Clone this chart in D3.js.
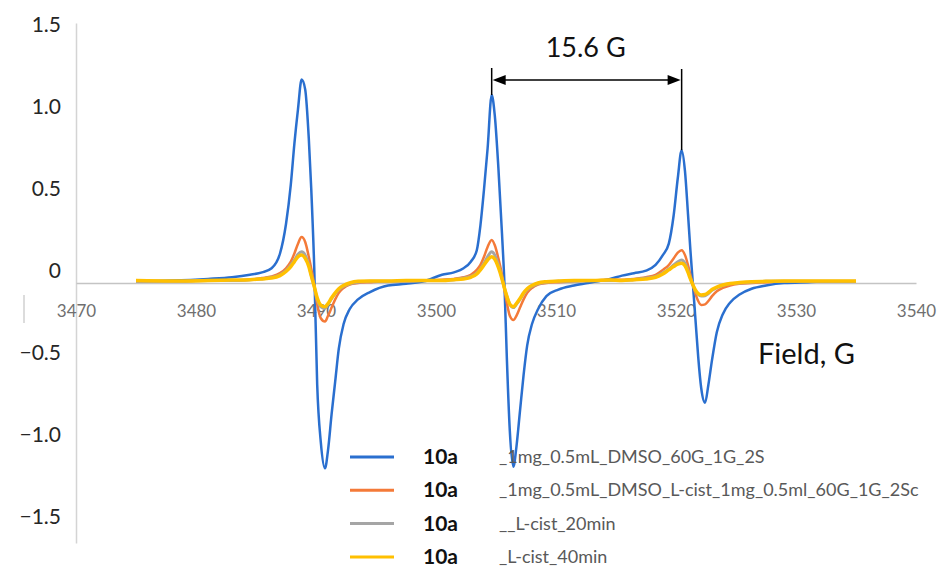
<!DOCTYPE html>
<html>
<head>
<meta charset="utf-8">
<script src="https://cdn.jsdelivr.net/npm/d3@7"></script>
<style>
  body { margin: 0; background: #fff; }
  svg { display: block; font-family: Lato, "Open Sans", sans-serif; }
</style>
</head>
<body>
<div id="plot"></div>
<script>
// field grid (G), shared by all four spectra
const fields = [
  3475, 3478, 3481, 3483, 3484.5, 3485.5, 3486.3, 3487, 3487.5, 3487.9,
  3488.2, 3488.5, 3488.8, 3489.1, 3489.4, 3489.6, 3489.85, 3490.1, 3490.4, 3490.75,
  3491, 3491.3, 3491.6, 3491.9, 3492.3, 3492.8, 3493.5, 3494.5, 3496, 3497.5,
  3499, 3500.5, 3501.5, 3502.3, 3502.9, 3503.4, 3503.7, 3504, 3504.3, 3504.64,
  3504.9, 3505.2, 3505.5, 3505.7, 3505.9, 3506.15, 3506.45, 3506.7, 3507, 3507.3,
  3507.6, 3508, 3508.5, 3509.2, 3510.2, 3511.5, 3513, 3514.5,
  3515.5, 3516.5, 3517.5, 3518.3, 3518.9, 3519.4, 3519.8, 3520.15, 3520.47, 3520.75,
  3521, 3521.2, 3521.4, 3521.6, 3521.85, 3522.1, 3522.42, 3522.7, 3523, 3523.4,
  3523.9, 3524.5, 3525.3, 3526.3, 3527.5, 3529, 3531, 3533, 3535
];

const blue = [
  0.01, 0.015, 0.025, 0.035, 0.05, 0.065, 0.09, 0.18, 0.36, 0.6,
  0.85, 1.06, 1.24, 1.18, 0.88, 0.58, 0.1, -0.62, -0.97, -1.13,
  -1.02, -0.8, -0.6, -0.4, -0.25, -0.16, -0.1, -0.055, -0.015, -0.005,
  0.01, 0.05, 0.065, 0.09, 0.13, 0.2, 0.35, 0.57, 0.82, 1.146,
  1.02, 0.7, 0.3, 0.0, -0.45, -0.9, -1.12, -1.0, -0.78, -0.56,
  -0.38, -0.25, -0.16, -0.08, -0.04, -0.015, 0.005, 0.025,
  0.045, 0.06, 0.075, 0.11, 0.17, 0.24, 0.41, 0.64, 0.81, 0.68,
  0.42, 0.2, 0.0, -0.2, -0.45, -0.64, -0.73, -0.62, -0.47, -0.3,
  -0.19, -0.12, -0.07, -0.035, -0.015, 0.0, 0.005, 0.01, 0.01
];

const orange = [
  0.01, 0.01, 0.015, 0.015, 0.02, 0.03, 0.04, 0.06, 0.09, 0.13,
  0.18, 0.24, 0.28, 0.25, 0.16, 0.09, -0.01, -0.13, -0.215, -0.235,
  -0.2, -0.15, -0.1, -0.06, -0.03, -0.01, 0.0, 0.005, 0.01, 0.01,
  0.015, 0.02, 0.025, 0.035, 0.05, 0.08, 0.11, 0.16, 0.22, 0.262,
  0.23, 0.15, 0.05, -0.04, -0.12, -0.2, -0.226, -0.2, -0.15, -0.1,
  -0.06, -0.03, -0.01, 0.0, 0.005, 0.01, 0.015, 0.02,
  0.02, 0.025, 0.035, 0.05, 0.08, 0.11, 0.15, 0.185, 0.2, 0.17,
  0.11, 0.05, -0.01, -0.06, -0.11, -0.134, -0.13, -0.11, -0.08, -0.05,
  -0.03, -0.015, -0.005, 0.0, 0.005, 0.01, 0.01, 0.01, 0.01
];

const gray = [
  0.01, 0.01, 0.015, 0.015, 0.02, 0.025, 0.035, 0.05, 0.075, 0.11,
  0.14, 0.175, 0.19, 0.17, 0.11, 0.05, -0.02, -0.1, -0.145, -0.155,
  -0.13, -0.095, -0.065, -0.04, -0.02, -0.005, 0.005, 0.01, 0.01, 0.01,
  0.015, 0.015, 0.02, 0.03, 0.04, 0.06, 0.085, 0.12, 0.16, 0.19,
  0.17, 0.11, 0.03, -0.03, -0.08, -0.13, -0.15, -0.13, -0.1, -0.065,
  -0.04, -0.02, -0.005, 0.005, 0.01, 0.01, 0.015, 0.015,
  0.015, 0.02, 0.03, 0.04, 0.06, 0.085, 0.11, 0.13, 0.14, 0.12,
  0.075, 0.03, -0.01, -0.045, -0.07, -0.08, -0.078, -0.065, -0.045, -0.028,
  -0.015, -0.005, 0.0, 0.005, 0.01, 0.01, 0.01, 0.01, 0.01
];

const yellow = [
  0.015, 0.012, 0.015, 0.018, 0.02, 0.025, 0.03, 0.045, 0.07, 0.1,
  0.13, 0.16, 0.17, 0.15, 0.1, 0.045, -0.02, -0.09, -0.135, -0.145,
  -0.125, -0.09, -0.06, -0.035, -0.015, 0.0, 0.01, 0.012, 0.012, 0.015,
  0.015, 0.015, 0.02, 0.025, 0.035, 0.055, 0.08, 0.11, 0.14, 0.16,
  0.145, 0.095, 0.025, -0.03, -0.08, -0.13, -0.145, -0.125, -0.095, -0.06,
  -0.035, -0.015, 0.0, 0.008, 0.012, 0.015, 0.015, 0.018,
  0.015, 0.02, 0.025, 0.035, 0.055, 0.08, 0.1, 0.115, 0.12, 0.105,
  0.065, 0.025, -0.01, -0.04, -0.065, -0.073, -0.07, -0.058, -0.04, -0.025,
  -0.012, -0.003, 0.003, 0.008, 0.01, 0.012, 0.012, 0.012, 0.012
];

const seriesNames = [
  "_1mg_0.5mL_DMSO_60G_1G_2S",
  "_1mg_0.5mL_DMSO_L-cist_1mg_0.5ml_60G_1G_2Sc",
  "__L-cist_20min",
  "_L-cist_40min"
];
const seriesLabel = "10a";
const xTicks = [3470, 3480, 3490, 3500, 3510, 3520, 3530, 3540];
const yTicks = [1.5, 1.0, 0.5, 0, -0.5, -1.0, -1.5];
const splitting = "15.6 G";
const xTitle = "Field, G";

const colors = ["#2a6fcf", "#f47a38", "#a5a5a5", "#ffc000"];
const widths = [2.5, 2.5, 3, 3.5];

const W = 940, H = 567;
const svg = d3.select("#plot").append("svg")
  .attr("width", W)
  .attr("height", H);

const x = d3.scaleLinear().domain([3470, 3540]).range([76, 916]);
const y = d3.scaleLinear().domain([-1.585, 1.585]).range([543, 23]);

// stray tick left of the plot
svg.append("line")
  .attr("x1", 24).attr("x2", 24).attr("y1", 295).attr("y2", 323)
  .attr("stroke", "#d0d0d0").attr("stroke-width", 1.5);

// y axis
const yAxis = svg.append("g")
  .attr("transform", `translate(${x(3470)},0)`)
  .call(d3.axisLeft(y).tickValues(yTicks).tickSize(0).tickPadding(15)
    .tickFormat(d => d === 0 ? "0" : d3.format(".1f")(d).replace("-", "\u2212")));
yAxis.select(".domain").attr("stroke", "#d4d4d4").attr("stroke-width", 1.5);
yAxis.selectAll("text")
  .attr("y", -12)
  .attr("fill", "#262626")
  .style("font-size", "21px")
  .style("font-family", "Lato, sans-serif");

// x axis at zero
const xAxis = svg.append("g")
  .attr("transform", `translate(0,${y(0)})`)
  .call(d3.axisBottom(x).tickValues(xTicks).tickSize(0).tickPadding(22).tickFormat(d3.format("d")));
xAxis.select(".domain").attr("stroke", "#c4c4c4").attr("stroke-width", 1.5);
xAxis.selectAll("text")
  .attr("fill", "#6f6f6f")
  .style("font-size", "17px")
  .style("font-family", "Lato, sans-serif");

// spectra
const allSeries = [blue, orange, gray, yellow];
const line = d3.line()
  .x((d, i) => x(fields[i]))
  .y(d => y(d))
  .curve(d3.curveMonotoneX);

allSeries.forEach((vals, k) => {
  svg.append("path")
    .datum(vals)
    .attr("fill", "none")
    .attr("stroke", colors[k])
    .attr("stroke-width", widths[k])
    .attr("stroke-linejoin", "round")
    .attr("d", line);
});

// splitting annotation between peak 2 and peak 3 of the blue trace
const i2 = fields.indexOf(3504.64), i3 = fields.indexOf(3520.47);
const px2 = x(fields[i2]), px3 = x(fields[i3]);
const ann = svg.append("g").attr("stroke", "#000").attr("stroke-width", 1.5);
ann.append("line").attr("x1", px2).attr("x2", px2).attr("y1", 68).attr("y2", y(blue[i2]));
ann.append("line").attr("x1", px3).attr("x2", px3).attr("y1", 69).attr("y2", y(blue[i3]));
ann.append("line").attr("x1", px2 + 10).attr("x2", px3 - 10).attr("y1", 80).attr("y2", 80);
svg.append("path")
  .attr("d", `M${px2 + 1},80 L${px2 + 14},75 L${px2 + 14},85 Z M${px3 - 1},80 L${px3 - 14},75 L${px3 - 14},85 Z`)
  .attr("fill", "#000");
svg.append("text")
  .attr("x", (px2 + px3) / 2 - 1)
  .attr("y", 57)
  .attr("text-anchor", "middle")
  .style("font-size", "27px")
  .attr("fill", "#111")
  .text(splitting);

// axis title
svg.append("text")
  .attr("x", 758)
  .attr("y", 364)
  .style("font-size", "29px")
  .attr("fill", "#111")
  .text(xTitle);

// legend
const legend = svg.append("g");
seriesNames.forEach((name, k) => {
  const ly = 457 + k * 33.3;
  legend.append("line")
    .attr("x1", 350).attr("x2", 394).attr("y1", ly).attr("y2", ly)
    .attr("stroke", colors[k]).attr("stroke-width", 3);
  legend.append("text")
    .attr("x", 423).attr("y", ly + 7)
    .style("font-size", "21px").style("font-weight", "bold")
    .attr("fill", "#111")
    .text(seriesLabel);
  legend.append("text")
    .attr("x", 499).attr("y", ly + 6)
    .style("font-size", "18px")
    .attr("fill", "#595959")
    .text(name);
});
</script>
</body>
</html>
